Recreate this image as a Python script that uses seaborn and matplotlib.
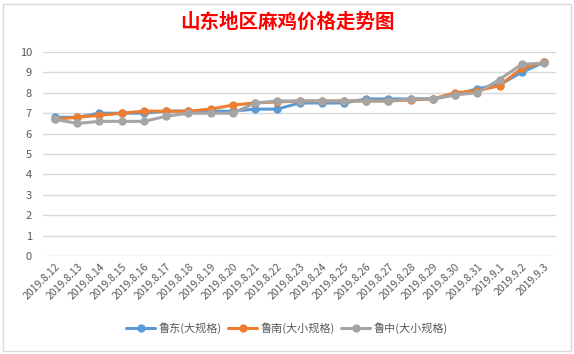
import matplotlib
matplotlib.use("Agg")
import matplotlib.pyplot as plt
import seaborn as sns
import pandas as pd
from matplotlib.lines import Line2D
from matplotlib.patches import Rectangle

dates = ["2019.8.12", "2019.8.13", "2019.8.14", "2019.8.15", "2019.8.16", "2019.8.17",
         "2019.8.18", "2019.8.19", "2019.8.20", "2019.8.21", "2019.8.22", "2019.8.23",
         "2019.8.24", "2019.8.25", "2019.8.26", "2019.8.27", "2019.8.28", "2019.8.29",
         "2019.8.30", "2019.8.31", "2019.9.1", "2019.9.2", "2019.9.3"]
ludong = [6.8, 6.8, 7.0, 7.0, 7.0, 7.1, 7.1, 7.1, 7.1, 7.2, 7.2, 7.5,
          7.5, 7.5, 7.7, 7.7, 7.7, 7.7, 7.9, 8.2, 8.4, 9.0, 9.5]
lunan = [6.7, 6.8, 6.9, 7.0, 7.1, 7.1, 7.1, 7.2, 7.4, 7.5, 7.55, 7.6,
         7.6, 7.6, 7.6, 7.6, 7.65, 7.7, 8.0, 8.1, 8.35, 9.2, 9.5]
luzhong = [6.7, 6.5, 6.6, 6.6, 6.6, 6.85, 7.0, 7.0, 7.0, 7.5, 7.6, 7.6,
           7.6, 7.6, 7.6, 7.6, 7.7, 7.7, 7.9, 8.0, 8.65, 9.4, 9.45]
series_names = ["鲁东(大规格)", "鲁南(大小规格)", "鲁中(大小规格)"]
colors = ["#5B9BD5", "#ED7D31", "#A5A5A5"]
title = "山东地区麻鸡价格走势图"

sns.set_theme(style="white")
plt.rcParams['font.family'] = ['Noto Sans CJK SC', 'DejaVu Sans']

rows = []
for name, vals in zip(series_names, [ludong, lunan, luzhong]):
    for i, (d, v) in enumerate(zip(dates, vals)):
        rows.append({"idx": i, "date": d, "price": v, "series": name})
df = pd.DataFrame(rows)

fig = plt.figure(figsize=(5.74, 3.54), dpi=100)
fig.patch.set_facecolor("white")
ax = fig.add_axes([43/574, 1-256/354, (556-43)/574, (256-52)/354])

sns.lineplot(data=df, x="idx", y="price", hue="series", hue_order=series_names,
             palette=colors, marker="o", markersize=6, linewidth=2.2,
             markeredgewidth=0, ax=ax, legend=False)

ax.set_xlim(-0.54, len(dates) - 1 + 0.54)
ax.set_ylim(0, 10)
ax.set_yticks(range(0, 11))
ax.set_xticks(range(len(dates)))
ax.set_xticklabels(dates, rotation=45, ha="right", rotation_mode="anchor",
                   fontsize=7.5, color="#595959")
ax.tick_params(axis="y", labelsize=8, labelcolor="#595959", length=0, pad=8)
ax.tick_params(axis="x", length=0, pad=4)
ax.grid(axis="y", color="#D9D9D9", linewidth=1)
ax.set_axisbelow(True)
for s in ax.spines.values():
    s.set_visible(False)
ax.set_xlabel("")
ax.set_ylabel("")

fig.text(0.5, 1-22/354, title, ha="center", va="center", fontsize=14,
         color="#FF0000", fontweight="bold")

handles = [Line2D([0], [0], color=c, linewidth=2.2, marker="o", markersize=6,
                  markeredgewidth=0) for c in colors]
fig.legend(handles, series_names, loc="center", bbox_to_anchor=(0.5, 1-328/354),
           ncol=3, frameon=False, fontsize=8, handlelength=2.6,
           columnspacing=0.6, handletextpad=0.3, labelcolor="#595959")

fig.patches.append(Rectangle((3/574, 3/354), 568/574, 347/354, transform=fig.transFigure,
                             fill=False, edgecolor="#D9D9D9", linewidth=1))

fig.savefig("out.png", dpi=100)
